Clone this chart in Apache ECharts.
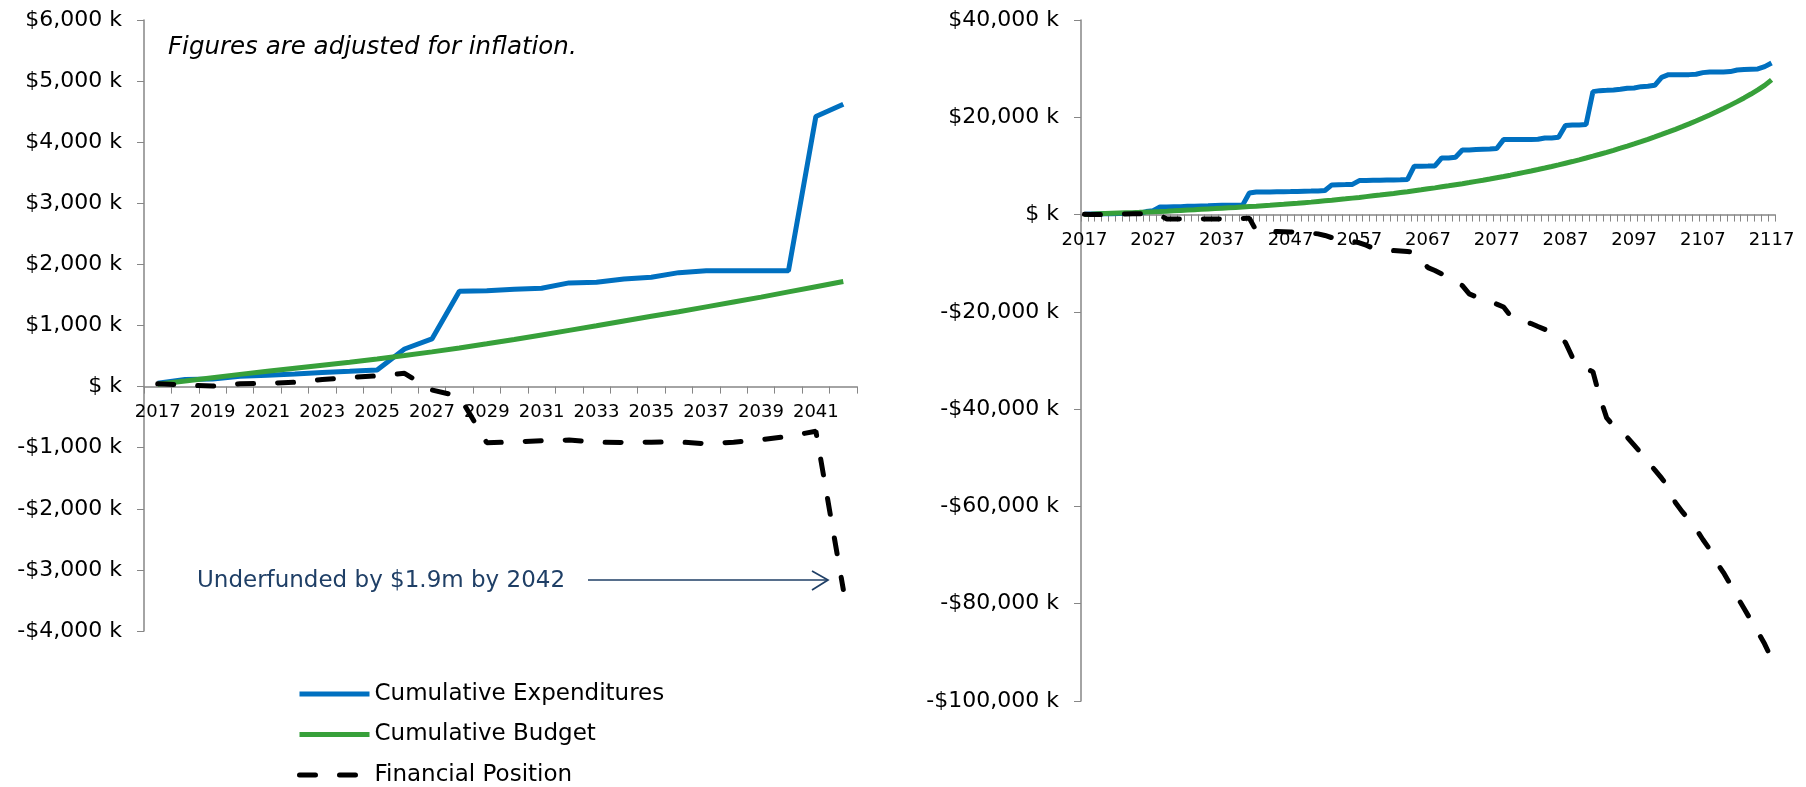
<!DOCTYPE html>
<html>
<head>
<meta charset="utf-8">
<title>Cumulative Expenditures vs Budget</title>
<script src="https://cdn.jsdelivr.net/npm/echarts@6/dist/echarts.min.js"></script>
<style>
html, body {
	margin: 0;
	padding: 0;
	background: #fff;
}

#chart {
	width: 1806px;
	height: 787px;
}
</style>
</head>
<body>
<div id="chart"></div>
<script type="text/javascript">

    // years shown on the axis, 2017 .. 2117
    var firstYear = 2017;
    var lastYear = 2117;
    var shortYears = 26;   // left chart stops at 2042

    // cumulative expenditures, $ k, one value per year from 2017
    var expenditures = [
        55, 115, 125, 170, 185, 207, 230, 250, 273, 615,
        780, 1560, 1570, 1593, 1610, 1697, 1707, 1762, 1790, 1865,
        1895, 1895, 1895, 1895, 4420, 4620, 4640, 4660, 4680, 4700,
        4720, 4760, 4800, 4830, 4870, 4950, 6100, 6130, 6160, 6200,
        6990, 7020, 7050, 7080, 7100, 7120, 7140, 7200, 9950, 9950,
        9970, 10000, 11650, 11650, 11790, 13290, 13290, 13360, 13430, 13500,
        13600, 15410, 15410, 15410, 15410, 15410, 15480, 15750, 15750, 15890,
        18290, 18430, 18430, 18500, 25270, 25480, 25540, 25610, 25750, 25960,
        26030, 26300, 26370, 26580, 28220, 28770, 28770, 28770, 28770, 28840,
        29180, 29320, 29320, 29320, 29390, 29730, 29800, 29870, 29940, 30420,
        31170
    ];

    // cumulative budget, $ k
    var budget = [
        40, 90, 145, 200, 250, 300, 350, 400, 452, 508,
        568, 632, 700, 770, 845, 920, 995, 1075, 1150, 1225,
        1305, 1385, 1465, 1550, 1635, 1720, 1810, 1900, 2000, 2100,
        2210, 2320, 2440, 2560, 2690, 2820, 2950, 3090, 3230, 3380,
        3530, 3690, 3850, 4010, 4180, 4350, 4530, 4710, 4900, 5090,
        5290, 5490, 5700, 5910, 6130, 6350, 6580, 6820, 7060, 7310,
        7570, 7830, 8100, 8380, 8670, 8960, 9260, 9570, 9890, 10220,
        10560, 10900, 11260, 11630, 12010, 12400, 12800, 13210, 13640, 14080,
        14530, 14990, 15470, 15960, 16470, 16990, 17530, 18080, 18650, 19240,
        19850, 20480, 21130, 21800, 22500, 23220, 23980, 24780, 25630, 26550,
        27700
    ];

    // financial position, $ k
    var position = [
        45, 25, 10, 45, 55, 70, 115, 150, 175, 218,
        -55, -160, -920, -905, -885, -875, -910, -915, -910, -905,
        -935, -910, -870, -815, -730, -3320, -3420, -3470, -3500, -3530,
        -3560, -3600, -3700, -3820, -3970, -4300, -4750, -5000, -5250, -5500,
        -5800, -6300, -6900, -7150, -7300, -7400, -7500, -7600, -7750, -9500,
        -10900, -11500, -12200, -13000, -13800, -14600, -16300, -16900, -17300, -17800,
        -18400, -19000, -20800, -21500, -22000, -22400, -23000, -23600, -24200, -25000,
        -26300, -29300, -31000, -31700, -32300, -37500, -41800, -43400, -44500, -45800,
        -47400, -49000, -50900, -52500, -54200, -56000, -59200, -61100, -62700, -64600,
        -66800, -68800, -71500, -73600, -76000, -78600, -81000, -83400, -85800, -88300,
        -91300
    ];

    var seriesNames = ['Cumulative Expenditures', 'Cumulative Budget', 'Financial Position'];
    var noteText = 'Figures are adjusted for inflation.';
    var calloutText = 'Underfunded by $1.9m by 2042';

    var years = [];
    for (var y = firstYear; y <= lastYear; y++) {
        years.push(String(y));
    }

    var blue = '#0070C0';
    var green = '#37A03A';
    var navy = '#1F3F66';
    var axisGrey = '#868686';
    var font = 'DejaVu Sans';

    // the two plot areas
    var leftGrid = {left: 144, top: 20, width: 713, height: 611};
    var rightGrid = {left: 1081, top: 20, width: 694, height: 681};
    var leftRange = {min: -4000, max: 6000, step: 1000};
    var rightRange = {min: -100000, max: 40000, step: 20000};

    // how far the year labels sit above the bottom of the grid (they follow the zero line)
    function zeroOffset(g, r) {
        return -(g.height * (-r.min) / (r.max - r.min));
    }

    function money(v) {
        if (v === 0) return '$ k';
        var s = String(Math.abs(v)).replace(/\B(?=(\d{3})+(?!\d))/g, ',');
        return (v < 0 ? '-' : '') + '$' + s + ' k';
    }

    // axis line + ticks on the zero line
    function xLineAxis(gridIndex, data) {
        return {
            type: 'category',
            gridIndex: gridIndex,
            data: data,
            boundaryGap: true,
            axisLine: {onZero: true, lineStyle: {color: axisGrey, width: 1.5}},
            axisTick: {show: true, interval: 0, length: 7, lineStyle: {color: axisGrey}},
            axisLabel: {show: false},
            splitLine: {show: false}
        };
    }

    // year labels only, moved up to just under the zero line
    function xLabelAxis(gridIndex, data, labelEvery, offset) {
        return {
            type: 'category',
            gridIndex: gridIndex,
            data: data,
            boundaryGap: true,
            position: 'bottom',
            offset: offset,
            axisLine: {show: false, onZero: false},
            axisTick: {show: false},
            axisLabel: {interval: labelEvery, color: '#000', fontSize: 18, margin: 17, fontFamily: font},
            splitLine: {show: false}
        };
    }

    function yAxisFor(gridIndex, r) {
        return {
            type: 'value',
            gridIndex: gridIndex,
            min: r.min,
            max: r.max,
            interval: r.step,
            axisLine: {show: true, lineStyle: {color: axisGrey, width: 1.5}},
            axisTick: {show: true, length: 7, lineStyle: {color: axisGrey}},
            axisLabel: {color: '#000', fontSize: 22, margin: 22, fontFamily: font, formatter: money},
            splitLine: {show: false}
        };
    }

    function lineSeries(name, data, axisIndex, color, dashed) {
        return {
            name: name,
            type: 'line',
            xAxisIndex: axisIndex,
            yAxisIndex: axisIndex,
            data: data,
            symbol: 'none',
            showSymbol: false,
            smooth: false,
            animation: false,
            lineStyle: dashed
                ? {color: color, width: 5, type: [16, 24], cap: 'round'}
                : {color: color, width: 5},
            itemStyle: {color: color}
        };
    }

    var myChart = echarts.init(document.getElementById('chart'));

    option = {
        animation: false,
        textStyle: {fontFamily: font, color: '#000'},
        grid: [leftGrid, rightGrid],
        xAxis: [
            xLineAxis(0, years.slice(0, shortYears)),
            xLineAxis(1, years),
            xLabelAxis(0, years.slice(0, shortYears), 1, zeroOffset(leftGrid, leftRange)),
            xLabelAxis(1, years, 9, zeroOffset(rightGrid, rightRange))
        ],
        yAxis: [
            yAxisFor(0, leftRange),
            yAxisFor(1, rightRange)
        ],
        legend: {
            orient: 'vertical',
            left: 297,
            top: 682,
            height: 110,
            padding: 0,
            itemWidth: 70,
            itemHeight: 14,
            itemGap: 16.5,
            itemStyle: {opacity: 0},
            lineStyle: {width: 5},
            textStyle: {fontSize: 23, lineHeight: 24, color: '#000', fontFamily: font},
            data: seriesNames
        },
        series: [
            lineSeries(seriesNames[0], expenditures.slice(0, shortYears), 0, blue, false),
            lineSeries(seriesNames[1], budget.slice(0, shortYears), 0, green, false),
            lineSeries(seriesNames[2], position.slice(0, shortYears), 0, '#000', true),
            lineSeries(seriesNames[0], expenditures, 1, blue, false),
            lineSeries(seriesNames[1], budget, 1, green, false),
            lineSeries(seriesNames[2], position, 1, '#000', true)
        ],
        graphic: [
            {
                type: 'text',
                left: 168,
                top: 35,
                style: {text: noteText, font: 'italic 24.5px "DejaVu Sans"', fill: '#000'}
            },
            {
                type: 'text',
                left: 197,
                top: 570,
                style: {text: calloutText, font: '23px "DejaVu Sans"', fill: navy}
            },
            {
                type: 'line',
                shape: {x1: 588, y1: 580, x2: 828, y2: 580},
                style: {stroke: navy, lineWidth: 1.7}
            },
            {
                type: 'polyline',
                shape: {points: [[812, 571], [828, 580], [812, 590]]},
                style: {stroke: navy, lineWidth: 1.7, fill: null}
            }
        ]
    };

    myChart.setOption(option);
</script>
</body>
</html>
